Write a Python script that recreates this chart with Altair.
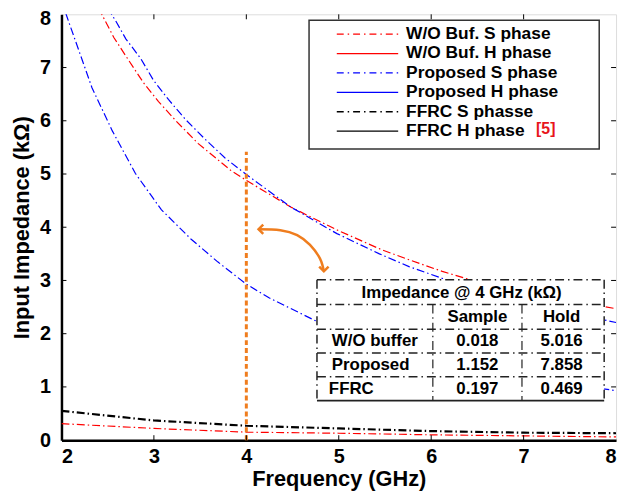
import altair as alt
import pandas as pd

# ---------------- data ----------------
freq_wob_s = [2.40, 2.568, 2.729, 2.889, 3.05, 3.243, 3.48, 3.83, 4.00, 4.48, 4.98, 5.46, 5.76, 6.12, 6.45, 7.00, 7.50, 8.00]
imp_wob_s = [8.12, 7.56, 7.13, 6.71, 6.36, 5.99, 5.57, 5.07, 4.88, 4.38, 3.95, 3.58, 3.39, 3.17, 3.00, 2.80, 2.62, 2.47]

freq_prop_s = [2.50, 2.589, 2.696, 2.857, 2.996, 3.157, 3.339, 3.55, 3.77, 4.00, 4.48, 4.98, 5.44, 5.76, 6.12, 6.50, 7.00, 7.50, 8.00]
imp_prop_s = [8.12, 7.87, 7.54, 7.17, 6.76, 6.40, 6.03, 5.66, 5.30, 4.99, 4.38, 3.88, 3.50, 3.26, 3.04, 2.83, 2.60, 2.40, 2.21]

freq_prop_s2 = [2.00, 2.05, 2.33, 2.55, 2.80, 3.08, 3.40, 3.69, 4.00, 4.25, 4.74, 5.50, 6.50, 7.50, 8.00]
imp_prop_s2 = [8.30, 8.00, 6.62, 5.81, 5.01, 4.33, 3.78, 3.35, 2.93, 2.67, 2.25, 1.75, 1.33, 1.05, 0.93]

freq_low = [2, 3, 4, 5, 6, 7, 8]
imp_ffrc_s = [0.55, 0.37, 0.27, 0.22, 0.17, 0.14, 0.13]
imp_wob_low = [0.31, 0.22, 0.15, 0.13, 0.10, 0.08, 0.06]

x_ticks = [2, 3, 4, 5, 6, 7, 8]
y_ticks = [0, 1, 2, 3, 4, 5, 6, 7, 8]

marker_freq = 4.0
marker_top = 5.42

arrow_x = [4.132, 4.368, 4.550, 4.689, 4.797, 4.839]
arrow_y = [3.963, 3.945, 3.853, 3.668, 3.410, 3.171]

legend_labels = ["W/O Buf. S phase", "W/O Buf. H phase", "Proposed S phase",
                 "Proposed H phase", "FFRC S phasse", "FFRC H phase"]
legend_colors = ["#ff0000", "#ff0000", "#0000ff", "#0000ff", "#000000", "#000000"]
legend_dashed = [True, False, True, False, True, False]
legend_ref = "[5]"

table_title = "Impedance @ 4 GHz (kΩ)"
table_cols = ["Sample", "Hold"]
table_rows = ["W/O buffer", "Proposed", "FFRC"]
sample_vals = ["0.018", "1.152", "0.197"]
hold_vals = ["5.016", "7.858", "0.469"]

# ---------------- build frames ----------------
W, H = 560, 430
FONT = "Liberation Sans"
DASHDOT = [8, 3, 1.5, 3]
ORANGE = "#ef7d1e"

curves = []
def add_curve(name, color, xs, ys, width):
    for i, (a, b) in enumerate(zip(xs, ys)):
        curves.append({"curve": name, "color": color, "f": a, "z": b, "o": i, "w": width})

add_curve("wob_s", "#ff0000", freq_wob_s, imp_wob_s, 1.2)
add_curve("prop_s", "#0000ff", freq_prop_s, imp_prop_s, 1.2)
add_curve("prop_s2", "#0000ff", freq_prop_s2, imp_prop_s2, 1.2)
add_curve("ffrc_s", "#000000", freq_low, imp_ffrc_s, 2.2)
add_curve("wob_low", "#ff0000", freq_low, imp_wob_low, 1.2)
curves_df = pd.DataFrame(curves)

xs = alt.Scale(domain=[2, 8], nice=False, zero=False)
ys = alt.Scale(domain=[0, 8], nice=False)

x_axis = alt.Axis(title="Frequency (GHz)", values=x_ticks, format="d", tickSize=0, grid=False,
                  labelFont=FONT, labelFontSize=20, labelFontWeight="bold", labelColor="black",
                  labelPadding=7, titleFont=FONT, titleFontSize=22, titleFontWeight="bold",
                  titleColor="black", titlePadding=2, domainColor="black", domainWidth=2.5)
y_axis = alt.Axis(title="Input Impedance (kΩ)", values=y_ticks, format="d", tickSize=0, grid=False,
                  labelFont=FONT, labelFontSize=20, labelFontWeight="bold", labelColor="black",
                  labelPadding=11, titleFont=FONT, titleFontSize=22, titleFontWeight="bold",
                  titleColor="black", titlePadding=6, domainColor="black", domainWidth=2.5,
                  labelOffset={"condition": {"test": "datum.value == 8", "value": 4}, "value": 0})

lines = alt.Chart(curves_df).mark_line(clip=True, strokeDash=DASHDOT).encode(
    x=alt.X("f:Q", scale=xs, axis=x_axis),
    y=alt.Y("z:Q", scale=ys, axis=y_axis),
    color=alt.Color("color:N", scale=None),
    strokeWidth=alt.StrokeWidth("w:Q", scale=None),
    detail="curve:N",
    order="o:Q",
)

# inward ticks
xt = pd.DataFrame({"t": x_ticks[1:-1]})
yt = pd.DataFrame({"t": y_ticks[1:-1]})
tick_b = alt.Chart(xt).mark_rule(color="black", strokeWidth=1).encode(
    x=alt.X("t:Q", scale=xs), y=alt.value(H), y2=alt.value(H - 5))
tick_t = alt.Chart(xt).mark_rule(color="black", strokeWidth=1).encode(
    x=alt.X("t:Q", scale=xs), y=alt.value(0), y2=alt.value(5))
tick_l = alt.Chart(yt).mark_rule(color="black", strokeWidth=1).encode(
    y=alt.Y("t:Q", scale=ys), x=alt.value(0), x2=alt.value(5))
tick_r = alt.Chart(yt).mark_rule(color="black", strokeWidth=1).encode(
    y=alt.Y("t:Q", scale=ys), x=alt.value(W), x2=alt.value(W - 5))

# orange marker at 4 GHz
marker = alt.Chart(pd.DataFrame({"f": [marker_freq], "z0": [0.0], "z1": [marker_top]})).mark_rule(
    color=ORANGE, strokeWidth=3, strokeDash=[5, 3]).encode(
    x=alt.X("f:Q", scale=xs), y=alt.Y("z0:Q", scale=ys), y2="z1:Q")

arrow_df = pd.DataFrame({"f": arrow_x, "z": arrow_y, "o": list(range(len(arrow_x)))})
arrow = alt.Chart(arrow_df).mark_line(color=ORANGE, strokeWidth=2.5, interpolate="natural").encode(
    x=alt.X("f:Q", scale=xs), y=alt.Y("z:Q", scale=ys), order="o:Q")
head_start = alt.Chart(arrow_df.iloc[[0]]).mark_point(
    shape="M 1 -1 L 0 0 L 1 1", size=90, filled=False, color=ORANGE, strokeWidth=2.5, opacity=1).encode(
    x=alt.X("f:Q", scale=xs), y=alt.Y("z:Q", scale=ys))
head_end = alt.Chart(arrow_df.iloc[[-1]]).mark_point(
    shape="M -1 -1 L 0 0 L 1 -1", size=90, filled=False, color=ORANGE, strokeWidth=2.5, opacity=1).encode(
    x=alt.X("f:Q", scale=xs), y=alt.Y("z:Q", scale=ys))

# ---------------- legend (manual) ----------------
LX0, LX1, LY0, LY1 = 250, 543, 6, 136
one = pd.DataFrame({"a": [0]})
leg_box = alt.Chart(one).mark_rect(fill="white", stroke="#333333", strokeWidth=1.5).encode(
    x=alt.value(LX0), x2=alt.value(LX1), y=alt.value(LY0), y2=alt.value(LY1))
leg_df = pd.DataFrame({
    "label": legend_labels, "color": legend_colors, "dashed": legend_dashed,
    "py": [20 + 19.6 * i for i in range(len(legend_labels))],
})
leg_dash = alt.Chart(leg_df[leg_df.dashed]).mark_rule(strokeWidth=1.3, strokeDash=[7, 4, 1.5, 4]).encode(
    x=alt.value(278), x2=alt.value(340), y=alt.Y("py:Q", scale=None), color=alt.Color("color:N", scale=None))
leg_solid = alt.Chart(leg_df[~leg_df.dashed]).mark_rule(strokeWidth=1.3).encode(
    x=alt.value(278), x2=alt.value(340), y=alt.Y("py:Q", scale=None), color=alt.Color("color:N", scale=None))
leg_text = alt.Chart(leg_df).mark_text(align="left", baseline="middle", font=FONT, fontSize=17.5,
                                       fontWeight="bold", color="black").encode(
    x=alt.value(348), y=alt.Y("py:Q", scale=None), text="label:N")
leg_ref = alt.Chart(pd.DataFrame({"t": [legend_ref]})).mark_text(
    align="center", baseline="middle", font=FONT, fontSize=16, fontWeight="bold", color="#e8141b").encode(
    x=alt.value(489), y=alt.value(116), text="t:N")

# ---------------- table (manual) ----------------
TX0, TX1 = 258, 548
ty = [268, 293, 318, 342, 366, 390]
cx = [375, 465]
tab_bg = alt.Chart(one).mark_rect(fill="white").encode(
    x=alt.value(TX0), x2=alt.value(TX1), y=alt.value(ty[0]), y2=alt.value(ty[-1]))
TDASH = [9, 4, 1.5, 4]
hl = alt.Chart(pd.DataFrame({"py": ty[:-1]})).mark_rule(color="#222222", strokeWidth=1.5, strokeDash=TDASH).encode(
    x=alt.value(TX0), x2=alt.value(TX1), y=alt.Y("py:Q", scale=None))
hl_bot = alt.Chart(pd.DataFrame({"py": [ty[-1]]})).mark_rule(color="#222222", strokeWidth=1.8).encode(
    x=alt.value(TX0), x2=alt.value(TX1), y=alt.Y("py:Q", scale=None))
vl_out = alt.Chart(pd.DataFrame({"px": [TX0, TX1]})).mark_rule(color="#222222", strokeWidth=1.5, strokeDash=TDASH).encode(
    x=alt.X("px:Q", scale=None), y=alt.value(ty[0]), y2=alt.value(ty[-1]))
vl_in = alt.Chart(pd.DataFrame({"px": cx})).mark_rule(color="#222222", strokeWidth=1.2, strokeDash=TDASH).encode(
    x=alt.X("px:Q", scale=None), y=alt.value(ty[1]), y2=alt.value(ty[-1]))

cells = [{"t": table_title, "px": 404, "py": 281, "al": "center"}]
for j, c in enumerate(table_cols):
    cells.append({"t": c, "px": [420, 505][j], "py": 306, "al": "center"})
for i, r in enumerate(table_rows):
    py = 330 + 24 * i
    cells.append({"t": r, "px": 273 - (3 if r == "FFRC" else 0), "py": py, "al": "left"})
    cells.append({"t": sample_vals[i], "px": 420, "py": py, "al": "center"})
    cells.append({"t": hold_vals[i], "px": 505, "py": py, "al": "center"})
cells_df = pd.DataFrame(cells)
txt_c = alt.Chart(cells_df[cells_df.al == "center"]).mark_text(
    align="center", baseline="middle", font=FONT, fontSize=17, fontWeight="bold", color="black").encode(
    x=alt.X("px:Q", scale=None), y=alt.Y("py:Q", scale=None), text="t:N")
txt_l = alt.Chart(cells_df[cells_df.al == "left"]).mark_text(
    align="left", baseline="middle", font=FONT, fontSize=17, fontWeight="bold", color="black").encode(
    x=alt.X("px:Q", scale=None), y=alt.Y("py:Q", scale=None), text="t:N")

chart = alt.layer(
    lines, marker, arrow, head_start, head_end,
    leg_box, leg_dash, leg_solid, leg_text, leg_ref,
    tab_bg, hl, hl_bot, vl_out, vl_in, txt_c, txt_l,
    tick_b, tick_t, tick_l, tick_r,
).properties(
    width=W, height=H,
    autosize=alt.AutoSizeParams(type="none"),
    padding={"left": 54, "top": 4, "right": 5, "bottom": 52},
).configure_view(stroke="black", strokeWidth=2).configure(background="white")

chart.save("out.html", embed_options={"renderer": "svg", "actions": False})
